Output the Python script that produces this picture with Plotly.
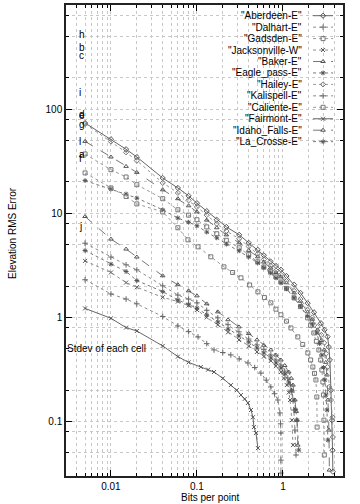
import math
import plotly.graph_objects as go

# ---------------- data ----------------
names = ["Aberdeen-E", "Dalhart-E", "Gadsden-E", "Jacksonville-W", "Baker-E", "Eagle_pass-E",
         "Hailey-E", "Kalispell-E", "Caliente-E", "Fairmont-E", "Idaho_Falls-E", "La_Crosse-E"]

x_aberdeen = [0.005, 0.01, 0.015, 0.02, 0.04, 0.06, 0.08, 0.1, 0.13, 0.17, 0.22, 0.31, 0.4, 0.51, 0.6, 0.72, 0.83, 0.95, 1.1, 1.35, 1.6, 1.94, 2.3, 2.77, 3.05, 3.31, 3.42, 3.52, 3.62, 3.72, 3.78, 3.81]
y_aberdeen = [73.6, 51.5, 41.2, 34.7, 21.8, 17.5, 14.7, 12.5, 10.5, 8.67, 7.4, 6.21, 5.2, 4.46, 3.95, 3.44, 3.12, 2.87, 2.5, 2.06, 1.72, 1.37, 1.12, 0.88, 0.76, 0.653, 0.52, 0.39, 0.20, 0.103, 0.053, 0.033]

x_dalhart = [0.005, 0.01, 0.015, 0.02, 0.04, 0.06, 0.08, 0.1, 0.13, 0.175, 0.23, 0.308, 0.4, 0.499, 0.6, 0.724, 0.83, 0.948, 1.05, 1.14, 1.22, 1.27, 1.34, 1.38, 1.42]
y_dalhart = [5.16, 3.80, 3.20, 2.86, 2.01, 1.64, 1.5, 1.38, 1.17, 0.99, 0.85, 0.726, 0.62, 0.544, 0.49, 0.436, 0.39, 0.349, 0.305, 0.262, 0.225, 0.192, 0.129, 0.0828, 0.0477]

x_gadsden = [0.005, 0.01, 0.015, 0.02, 0.04, 0.06, 0.08, 0.1, 0.13, 0.17, 0.22, 0.31, 0.4, 0.51, 0.6, 0.72, 0.83, 0.95, 1.1, 1.35, 1.6, 1.94, 2.1, 2.29, 2.45, 2.62, 2.75, 2.84, 2.92, 2.96, 3.0, 3.03]
y_gadsden = [37.1, 26.2, 22.3, 18.8, 13.8, 10.8, 9.6, 8.67, 7.4, 6.36, 5.5, 4.66, 4.0, 3.42, 3.05, 2.74, 2.45, 2.19, 1.9, 1.54, 1.27, 0.99, 0.84, 0.709, 0.59, 0.487, 0.39, 0.313, 0.24, 0.180, 0.103, 0.0477]

x_jackson = [0.005, 0.01, 0.015, 0.02, 0.04, 0.06, 0.08, 0.1, 0.13, 0.175, 0.23, 0.308, 0.4, 0.499, 0.6, 0.724, 0.83, 0.948, 1.03, 1.11, 1.17, 1.21, 1.27, 1.31]
y_jackson = [3.49, 2.70, 2.16, 1.95, 1.56, 1.42, 1.3, 1.18, 1.0, 0.848, 0.72, 0.608, 0.53, 0.466, 0.42, 0.382, 0.34, 0.299, 0.26, 0.224, 0.19, 0.161, 0.103, 0.0594]

x_baker = [0.005, 0.01, 0.015, 0.02, 0.04, 0.06, 0.08, 0.1, 0.13, 0.17, 0.22, 0.31, 0.4, 0.51, 0.6, 0.72, 0.83, 0.95, 1.1, 1.35, 1.6, 1.94, 2.2, 2.53, 2.8, 3.02, 3.15, 3.25, 3.34, 3.43, 3.47]
y_baker = [49.0, 34.7, 28.2, 24.7, 16.8, 13.8, 11.8, 10.3, 8.6, 7.26, 6.2, 5.20, 4.4, 3.82, 3.4, 2.99, 2.7, 2.45, 2.15, 1.72, 1.43, 1.13, 0.96, 0.758, 0.6, 0.487, 0.37, 0.280, 0.161, 0.0828, 0.0342]

x_eagle = [0.005, 0.01, 0.015, 0.02, 0.04, 0.06, 0.08, 0.1, 0.13, 0.17, 0.22, 0.31, 0.4, 0.51, 0.6, 0.72, 0.83, 0.95, 1.1, 1.35, 1.6, 1.94, 2.2, 2.48, 2.68, 2.84, 2.97, 3.08, 3.17, 3.25, 3.34]
y_eagle = [20.6, 17.1, 15.3, 14.0, 10.8, 9.0, 8.2, 7.59, 6.6, 5.81, 5.05, 4.36, 3.8, 3.34, 3.0, 2.68, 2.4, 2.15, 1.88, 1.54, 1.28, 1.03, 0.86, 0.709, 0.56, 0.436, 0.33, 0.251, 0.18, 0.129, 0.0664]

x_hailey = [0.005, 0.01, 0.015, 0.02, 0.04, 0.06, 0.08, 0.1, 0.13, 0.17, 0.22, 0.31, 0.4, 0.51, 0.6, 0.72, 0.83, 0.95, 1.1, 1.35, 1.6, 1.94, 2.2, 2.53, 2.8, 3.02, 3.18, 3.31, 3.45, 3.62, 3.78, 3.81]
y_hailey = [72.1, 48.8, 38.5, 32.0, 19.6, 15.7, 13.3, 11.5, 9.6, 7.92, 6.75, 5.69, 4.8, 4.08, 3.6, 3.13, 2.82, 2.56, 2.23, 1.80, 1.5, 1.18, 1.0, 0.811, 0.68, 0.569, 0.45, 0.334, 0.215, 0.161, 0.110, 0.071]

x_kalispell = [0.005, 0.01, 0.015, 0.02, 0.04, 0.06, 0.08, 0.103, 0.13, 0.158, 0.2, 0.248, 0.31, 0.392, 0.47, 0.555, 0.64, 0.724, 0.8, 0.874, 0.923, 0.94, 0.948, 0.948, 0.948]
y_kalispell = [2.30, 1.68, 1.50, 1.35, 1.02, 0.828, 0.73, 0.650, 0.56, 0.487, 0.46, 0.436, 0.40, 0.365, 0.33, 0.292, 0.25, 0.215, 0.185, 0.161, 0.121, 0.095, 0.0776, 0.0426, 0.032]

x_caliente = [0.005, 0.01, 0.015, 0.02, 0.04, 0.06, 0.0786, 0.103, 0.145, 0.206, 0.26, 0.325, 0.41, 0.512, 0.61, 0.724, 0.83, 0.948, 1.1, 1.24, 1.49, 1.7, 1.95, 2.1, 2.23, 2.33, 2.42, 2.48, 2.50]
y_caliente = [24.4, 17.5, 14.5, 12.3, 10.3, 7.26, 5.56, 4.76, 3.82, 3.06, 2.7, 2.40, 2.05, 1.76, 1.55, 1.38, 1.2, 1.06, 0.92, 0.792, 0.650, 0.55, 0.456, 0.39, 0.334, 0.29, 0.251, 0.172, 0.0885]

x_fairmont = [0.005, 0.01, 0.015, 0.02, 0.04, 0.06, 0.08, 0.111, 0.135, 0.158, 0.2, 0.248, 0.29, 0.325, 0.36, 0.392, 0.425, 0.448, 0.46, 0.486, 0.512]
y_fairmont = [1.22, 0.981, 0.798, 0.741, 0.532, 0.420, 0.37, 0.334, 0.315, 0.299, 0.26, 0.224, 0.2, 0.180, 0.165, 0.151, 0.129, 0.110, 0.0885, 0.0776, 0.0556]

x_idaho = [0.005, 0.01, 0.015, 0.02, 0.04, 0.06, 0.08, 0.1, 0.13, 0.175, 0.23, 0.308, 0.4, 0.499, 0.6, 0.724, 0.83, 0.948, 1.05, 1.17, 1.25, 1.31, 1.38, 1.43, 1.46, 1.49]
y_idaho = [9.31, 5.65, 4.53, 3.80, 2.51, 2.06, 1.8, 1.61, 1.35, 1.13, 0.95, 0.811, 0.7, 0.608, 0.54, 0.487, 0.435, 0.390, 0.345, 0.299, 0.26, 0.224, 0.161, 0.125, 0.103, 0.0594]

x_lacrosse = [0.005, 0.01, 0.015, 0.02, 0.04, 0.06, 0.08, 0.1, 0.13, 0.175, 0.23, 0.308, 0.4, 0.499, 0.6, 0.724, 0.83, 0.948, 1.05, 1.17, 1.26, 1.34, 1.41, 1.46, 1.53]
y_lacrosse = [4.39, 3.25, 2.76, 2.26, 1.77, 1.47, 1.34, 1.23, 1.06, 0.906, 0.77, 0.664, 0.58, 0.509, 0.455, 0.408, 0.365, 0.327, 0.285, 0.240, 0.2, 0.161, 0.13, 0.103, 0.0532]

# per-dataset labels (letter, bits per point, value)
label_letters = ["h", "b", "c", "i", "d", "e", "g", "l", "a", "f", "j"]
label_x = [0.004] * 11
label_y = [520, 395, 330, 145, 88, 86, 71, 49, 36.5, 33.5, 7.5]

stdev_text = "Stdev of each cell"
stdev_x, stdev_y = 0.003, 0.5

x_ticks = [0.01, 0.1, 1]
y_ticks = [0.1, 1, 10, 100, 1000]
x_minor = [m * 10 ** e for e in (-3, -2, -1, 0) for m in range(2, 10) if 0.003 <= m * 10 ** e <= 5]
y_minor = [m * 10 ** e for e in (-2, -1, 0, 1, 2) for m in (2, 5, 8) if 0.03 <= m * 10 ** e <= 1000]

xs = [x_aberdeen, x_dalhart, x_gadsden, x_jackson, x_baker, x_eagle,
      x_hailey, x_kalispell, x_caliente, x_fairmont, x_idaho, x_lacrosse]
ys = [y_aberdeen, y_dalhart, y_gadsden, y_jackson, y_baker, y_eagle,
      y_hailey, y_kalispell, y_caliente, y_fairmont, y_idaho, y_lacrosse]

# ---------------- styles ----------------
symbols = ["diamond-open", "cross-thin-open", "square-open", "x-thin-open", "triangle-up-open", "asterisk-open",
           "diamond-open", "cross-thin-open", "square-open", "x-thin-open", "triangle-up-open", "asterisk-open"]
dashes = ["solid", "dot", "dot", "dot", "dash", "dot", "dot", "dot", "dot", "solid", "dash", "dot"]
colors = ["#666666", "#8a8a8a", "#999999", "#8a8a8a", "#777777", "#777777",
          "#999999", "#8a8a8a", "#999999", "#666666", "#777777", "#777777"]
mcolors = ["#555555", "#666666", "#777777", "#555555", "#555555", "#555555",
           "#777777", "#666666", "#777777", "#555555", "#555555", "#555555"]

FONT = "Liberation Sans, Arial, Helvetica, sans-serif"
L, R, T, B = 66, 17, 5, 28
W, H = 360, 504

fig = go.Figure()
for i, nm in enumerate(names):
    fig.add_trace(go.Scatter(
        x=xs[i], y=ys[i], mode="lines+markers", name=nm, showlegend=False,
        line=dict(color=colors[i], width=1, dash=dashes[i]),
        marker=dict(symbol=symbols[i], size=4, color=mcolors[i], line=dict(width=1, color=mcolors[i])),
        xaxis="x", yaxis="y"))

# legend (gnuplot style: text right-aligned, sample on right)
leg_top_px, leg_step_px = 15.7, 11.45
plot_h = H - T - B
for i, nm in enumerate(names):
    yp = 1 - (leg_top_px + i * leg_step_px - T) / plot_h
    fig.add_trace(go.Scatter(
        x=[0.892, 0.964], y=[yp, yp], mode="lines", showlegend=False, hoverinfo="skip",
        line=dict(color=colors[i], width=1, dash=dashes[i]), xaxis="x2", yaxis="y2"))
    fig.add_trace(go.Scatter(
        x=[0.928], y=[yp], mode="markers", showlegend=False, hoverinfo="skip",
        marker=dict(symbol=symbols[i], size=4, color=mcolors[i], line=dict(width=1, color=mcolors[i])),
        xaxis="x2", yaxis="y2"))
    fig.add_annotation(x=0.859, y=yp, xref="x2", yref="y2", text='"' + nm + '"',
                       showarrow=False, xanchor="right", yanchor="middle",
                       font=dict(family=FONT, size=10, color="#000"))

for t, lx, ly in zip(label_letters, label_x, label_y):
    fig.add_annotation(x=math.log10(lx), y=math.log10(ly), xref="x", yref="y", text=t,
                       showarrow=False, xanchor="left", yanchor="middle",
                       font=dict(family=FONT, size=10, color="#000"))
fig.add_annotation(x=math.log10(stdev_x), y=math.log10(stdev_y), xref="x", yref="y", text=stdev_text,
                   showarrow=False, xanchor="left", yanchor="middle", xshift=-1,
                   font=dict(family=FONT, size=10, color="#000"))

# axis titles (positions in pixels converted to paper fractions)
fig.add_annotation(x=(12 - L) / (W - L - R), y=1 - (233 - T) / plot_h, xref="paper", yref="paper",
                   text="Elevation RMS Error", showarrow=False, textangle=-90,
                   xanchor="center", yanchor="middle", font=dict(family=FONT, size=10, color="#000"))
fig.add_annotation(x=(210 - L) / (W - L - R), y=1 - (497 - T) / plot_h, xref="paper", yref="paper",
                   text="Bits per point", showarrow=False,
                   xanchor="center", yanchor="middle", font=dict(family=FONT, size=10, color="#000"))

grid = dict(showgrid=True, gridcolor="#c8c8c8", griddash="3px,3px", gridwidth=1)
fig.update_layout(
    width=W, height=H, margin=dict(l=L, r=R, t=T, b=B, autoexpand=False),
    paper_bgcolor="white", plot_bgcolor="white",
    font=dict(family=FONT, size=10, color="#000"),
    xaxis=dict(type="log", range=[math.log10(0.003), math.log10(5)], automargin=False,
               tickvals=x_ticks, ticktext=["0.01", "0.1", "1"],
               ticks="inside", ticklen=6, tickcolor="#000", mirror="ticks",
               showline=True, linecolor="#222", linewidth=1.5, zeroline=False,
               minor=dict(tickvals=x_minor, ticks="inside", ticklen=3, tickcolor="#000",
                          showgrid=True, gridcolor="#c8c8c8", griddash="3px,3px"),
               **grid),
    yaxis=dict(type="log", range=[math.log10(0.03), 3], automargin=False,
               tickvals=y_ticks, ticktext=["0.1", "1", "10", "100", "1000"],
               ticks="inside", ticklen=6, tickcolor="#000", mirror="ticks",
               showline=True, linecolor="#222", linewidth=1.5, zeroline=False,
               minor=dict(tickvals=y_minor, ticks="inside", ticklen=3, tickcolor="#000",
                          showgrid=True, gridcolor="#c8c8c8", griddash="3px,3px"),
               **grid),
    xaxis2=dict(overlaying="x", range=[0, 1], visible=False),
    yaxis2=dict(overlaying="y", range=[0, 1], visible=False),
)

fig.write_html("out.html", config={"displayModeBar": False},
               post_script="document.body.style.margin='0';document.body.style.padding='0';")
